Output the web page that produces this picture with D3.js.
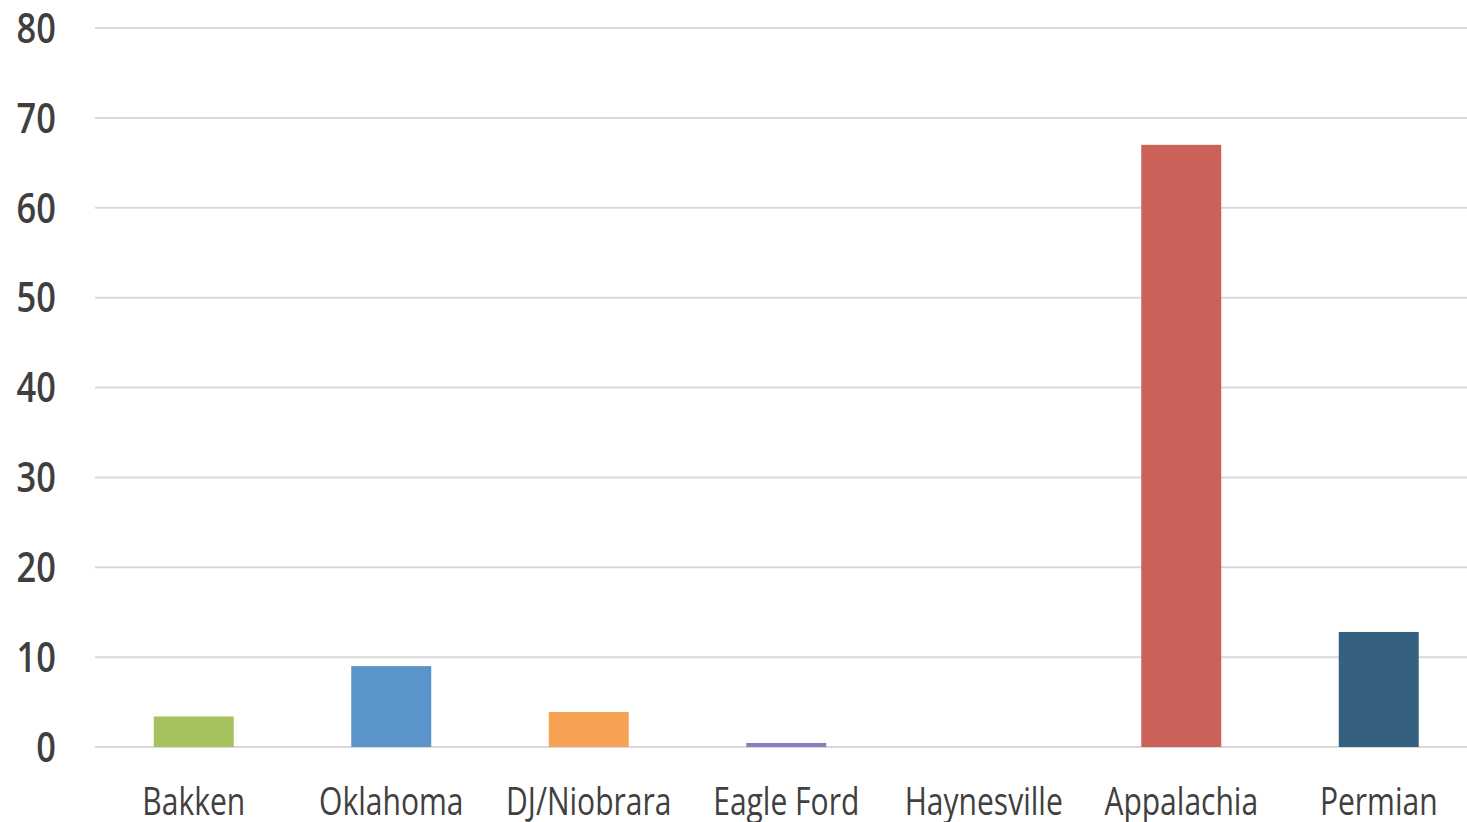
<!DOCTYPE html>
<html>
<head>
<meta charset="utf-8">
<script src="https://cdn.jsdelivr.net/npm/d3@7"></script>
<style>
  html, body { margin: 0; padding: 0; background: #fff; }
  svg { display: block; }
</style>
</head>
<body>
<svg id="chart" width="1467" height="822"></svg>
<script>
const categories = ["Bakken", "Oklahoma", "DJ/Niobrara", "Eagle Ford", "Haynesville", "Appalachia", "Permian"];
const values = [3.4, 9.0, 3.9, 0.45, 0, 67.0, 12.8];
const colors = ["#A6C25F", "#5B93CB", "#F6A254", "#8E7CC3", "#4BACC6", "#CB6159", "#36607F"];
const yTicks = [0, 10, 20, 30, 40, 50, 60, 70, 80];

const svg = d3.select("#chart");
const margin = { left: 95, top: 28, bottom: 75 };
const W = 1467, H = 822;

const x = d3.scaleBand()
  .domain(categories)
  .range([margin.left, 1477.5])
  .paddingInner(0.595)
  .paddingOuter(0.2975);

const y = d3.scaleLinear()
  .domain([0, 80])
  .range([H - margin.bottom, margin.top]);

// gridlines
svg.append("g")
  .selectAll("line")
  .data(yTicks)
  .join("line")
  .attr("x1", margin.left)
  .attr("x2", W)
  .attr("y1", d => y(d))
  .attr("y2", d => y(d))
  .attr("stroke", "#D9D9D9")
  .attr("stroke-width", 2);

// y tick labels
svg.append("g")
  .selectAll("text")
  .data(yTicks)
  .join("text")
  .attr("transform", d => `translate(56,${y(d)}) scale(0.84,1)`)
  .attr("text-anchor", "end")
  .attr("dy", "0.36em")
  .attr("font-family", "'Open Sans', sans-serif")
  .attr("font-weight", 600)
  .attr("font-size", 41)
  .attr("fill", "#3F3F3F")
  .text(d => d);

// bars
svg.append("g")
  .selectAll("rect")
  .data(values)
  .join("rect")
  .attr("x", (d, i) => x(categories[i]))
  .attr("width", x.bandwidth())
  .attr("y", d => y(d))
  .attr("height", d => y(0) - y(d))
  .attr("fill", (d, i) => colors[i]);

// category labels
svg.append("g")
  .selectAll("text")
  .data(categories)
  .join("text")
  .attr("transform", d => `translate(${x(d) + x.bandwidth() / 2},815) scale(0.77,1)`)
  .attr("text-anchor", "middle")
  .attr("font-family", "'Open Sans', sans-serif")
  .attr("font-size", 39)
  .attr("fill", "#404040")
  .text(d => d);
</script>
</body>
</html>
